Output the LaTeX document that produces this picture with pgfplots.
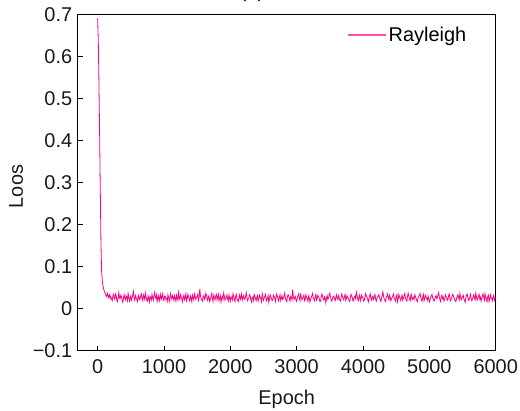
\documentclass[border=0pt]{standalone}
\usepackage{pgfplots}
\usepackage{pgfplotstable}
\pgfplotsset{compat=1.18}
\usepackage{fontspec}
\setmainfont{Liberation Sans}
\definecolor{raypink}{RGB}{255,0,128}
\definecolor{legpink}{RGB}{255,80,165}
\pgfplotstableread[row sep=\\]{
x y\\
0 0.690\\ 10 0.640\\ 20 0.540\\ 30 0.420\\ 40 0.290\\ 50 0.160\\ 60 0.090\\ 70 0.068\\ 80 0.055\\ 90 0.047\\
100 0.042\\ 110 0.038\\ 120 0.035\\ 130 0.029\\ 140 0.031\\ 150 0.036\\ 160 0.026\\ 170 0.030\\ 180 0.033\\ 190 0.024\\
200 0.028\\ 210 0.023\\ 220 0.019\\ 230 0.030\\ 240 0.034\\ 250 0.026\\ 260 0.022\\ 270 0.035\\ 280 0.031\\ 290 0.021\\
300 0.017\\ 310 0.027\\ 320 0.038\\ 330 0.025\\ 340 0.024\\ 350 0.032\\ 360 0.029\\ 370 0.020\\ 380 0.015\\ 390 0.026\\
400 0.033\\ 410 0.024\\ 420 0.021\\ 430 0.031\\ 440 0.027\\ 450 0.019\\ 460 0.036\\ 470 0.028\\ 480 0.018\\ 490 0.024\\
500 0.030\\ 510 0.020\\ 520 0.025\\ 530 0.033\\ 540 0.041\\ 550 0.027\\ 560 0.020\\ 570 0.031\\ 580 0.026\\ 590 0.022\\
600 0.017\\ 610 0.029\\ 620 0.032\\ 630 0.021\\ 640 0.023\\ 650 0.030\\ 660 0.035\\ 670 0.024\\ 680 0.019\\ 690 0.033\\
700 0.028\\ 710 0.022\\ 720 0.037\\ 730 0.027\\ 740 0.021\\ 750 0.018\\ 760 0.030\\ 770 0.025\\ 780 0.016\\ 790 0.029\\
800 0.027\\ 810 0.021\\ 820 0.034\\ 830 0.026\\ 840 0.020\\ 850 0.031\\ 860 0.039\\ 870 0.028\\ 880 0.024\\ 890 0.033\\
900 0.018\\ 910 0.025\\ 920 0.031\\ 930 0.019\\ 940 0.026\\ 950 0.034\\ 960 0.022\\ 970 0.028\\ 980 0.035\\ 990 0.023\\
1000 0.019\\ 1010 0.030\\ 1020 0.029\\ 1030 0.022\\ 1040 0.024\\ 1050 0.018\\ 1060 0.033\\ 1070 0.027\\ 1080 0.017\\ 1090 0.025\\
1100 0.036\\ 1110 0.028\\ 1120 0.022\\ 1130 0.031\\ 1140 0.027\\ 1150 0.020\\ 1160 0.031\\ 1170 0.024\\ 1180 0.018\\ 1190 0.032\\
1200 0.025\\ 1210 0.020\\ 1220 0.038\\ 1230 0.026\\ 1240 0.021\\ 1250 0.033\\ 1260 0.028\\ 1270 0.023\\ 1280 0.016\\ 1290 0.027\\
1300 0.032\\ 1310 0.021\\ 1320 0.026\\ 1330 0.035\\ 1340 0.019\\ 1350 0.024\\ 1360 0.034\\ 1370 0.029\\ 1380 0.023\\ 1390 0.018\\
1400 0.030\\ 1410 0.025\\ 1420 0.017\\ 1430 0.032\\ 1440 0.027\\ 1450 0.021\\ 1460 0.035\\ 1470 0.030\\ 1480 0.022\\ 1490 0.026\\
1500 0.029\\ 1510 0.034\\ 1520 0.020\\ 1530 0.027\\ 1540 0.047\\ 1550 0.031\\ 1560 0.024\\ 1570 0.021\\ 1580 0.018\\ 1590 0.028\\
1600 0.031\\ 1610 0.022\\ 1620 0.025\\ 1630 0.036\\ 1640 0.033\\ 1650 0.023\\ 1660 0.019\\ 1670 0.030\\ 1680 0.028\\ 1690 0.017\\
1700 0.022\\ 1710 0.029\\ 1720 0.036\\ 1730 0.025\\ 1740 0.017\\ 1750 0.032\\ 1760 0.026\\ 1770 0.021\\ 1780 0.030\\ 1790 0.034\\
1800 0.021\\ 1810 0.027\\ 1820 0.034\\ 1830 0.019\\ 1840 0.024\\ 1850 0.031\\ 1860 0.016\\ 1870 0.025\\ 1880 0.029\\ 1890 0.022\\
1900 0.037\\ 1910 0.030\\ 1920 0.020\\ 1930 0.024\\ 1940 0.027\\ 1950 0.033\\ 1960 0.023\\ 1970 0.018\\ 1980 0.032\\ 1990 0.026\\
2000 0.018\\ 2010 0.028\\ 2020 0.026\\ 2030 0.021\\ 2040 0.035\\ 2050 0.030\\ 2060 0.021\\ 2070 0.017\\ 2080 0.029\\ 2090 0.034\\
2100 0.024\\ 2110 0.020\\ 2120 0.017\\ 2130 0.027\\ 2140 0.033\\ 2150 0.022\\ 2160 0.027\\ 2170 0.035\\ 2180 0.020\\ 2190 0.026\\
2200 0.031\\ 2210 0.024\\ 2220 0.022\\ 2230 0.029\\ 2240 0.038\\ 2250 0.027\\ 2260 0.019\\ 2270 0.023\\ 2280 0.025\\ 2290 0.033\\
2300 0.030\\ 2310 0.021\\ 2320 0.016\\ 2330 0.026\\ 2340 0.028\\ 2350 0.020\\ 2360 0.034\\ 2370 0.030\\ 2380 0.023\\ 2390 0.019\\
2400 0.027\\ 2410 0.031\\ 2420 0.018\\ 2430 0.024\\ 2440 0.032\\ 2450 0.028\\ 2460 0.024\\ 2470 0.017\\ 2480 0.036\\ 2490 0.029\\
2500 0.020\\ 2510 0.025\\ 2520 0.029\\ 2530 0.034\\ 2540 0.022\\ 2550 0.018\\ 2560 0.026\\ 2570 0.031\\ 2580 0.015\\ 2590 0.023\\
2600 0.033\\ 2610 0.028\\ 2620 0.025\\ 2630 0.019\\ 2640 0.021\\ 2650 0.032\\ 2660 0.030\\ 2670 0.024\\ 2680 0.017\\ 2690 0.027\\
2700 0.035\\ 2710 0.029\\ 2720 0.023\\ 2730 0.018\\ 2740 0.028\\ 2750 0.033\\ 2760 0.019\\ 2770 0.025\\ 2780 0.031\\ 2790 0.022\\
2800 0.024\\ 2810 0.030\\ 2820 0.037\\ 2830 0.026\\ 2840 0.020\\ 2850 0.017\\ 2860 0.027\\ 2870 0.033\\ 2880 0.032\\ 2890 0.023\\
2900 0.018\\ 2910 0.029\\ 2920 0.026\\ 2930 0.021\\ 2940 0.045\\ 2950 0.030\\ 2960 0.022\\ 2970 0.026\\ 2980 0.029\\ 2990 0.020\\
3000 0.017\\ 3010 0.025\\ 3020 0.031\\ 3030 0.035\\ 3040 0.025\\ 3050 0.019\\ 3060 0.034\\ 3070 0.028\\ 3080 0.021\\ 3090 0.024\\
3100 0.028\\ 3110 0.033\\ 3120 0.019\\ 3130 0.023\\ 3140 0.033\\ 3150 0.027\\ 3160 0.024\\ 3170 0.018\\ 3180 0.030\\ 3190 0.026\\
3200 0.016\\ 3210 0.022\\ 3220 0.027\\ 3230 0.031\\ 3240 0.036\\ 3250 0.025\\ 3260 0.022\\ 3270 0.019\\ 3280 0.029\\ 3290 0.034\\
3300 0.020\\ 3310 0.024\\ 3320 0.032\\ 3330 0.028\\ 3340 0.025\\ 3350 0.017\\ 3360 0.018\\ 3370 0.027\\ 3380 0.035\\ 3390 0.030\\
3400 0.023\\ 3410 0.020\\ 3420 0.028\\ 3430 0.024\\ 3440 0.014\\ 3450 0.026\\ 3460 0.031\\ 3470 0.022\\ 3480 0.026\\ 3490 0.033\\
3500 0.037\\ 3510 0.028\\ 3520 0.021\\ 3530 0.018\\ 3540 0.024\\ 3550 0.029\\ 3560 0.030\\ 3570 0.023\\ 3580 0.019\\ 3590 0.027\\
3600 0.033\\ 3610 0.025\\ 3620 0.022\\ 3630 0.031\\ 3640 0.027\\ 3650 0.020\\ 3660 0.018\\ 3670 0.026\\ 3680 0.035\\ 3690 0.029\\
3700 0.025\\ 3710 0.021\\ 3720 0.029\\ 3730 0.034\\ 3740 0.020\\ 3750 0.024\\ 3760 0.031\\ 3770 0.027\\ 3780 0.024\\ 3790 0.019\\
3800 0.017\\ 3810 0.026\\ 3820 0.034\\ 3830 0.030\\ 3840 0.026\\ 3850 0.018\\ 3860 0.021\\ 3870 0.028\\ 3880 0.030\\ 3890 0.024\\
3900 0.039\\ 3910 0.031\\ 3920 0.023\\ 3930 0.019\\ 3940 0.028\\ 3950 0.033\\ 3960 0.019\\ 3970 0.025\\ 3980 0.032\\ 3990 0.027\\
4000 0.025\\ 4010 0.018\\ 4020 0.020\\ 4030 0.029\\ 4040 0.036\\ 4050 0.030\\ 4060 0.027\\ 4070 0.022\\ 4080 0.016\\ 4090 0.024\\
4100 0.031\\ 4110 0.035\\ 4120 0.024\\ 4130 0.020\\ 4140 0.029\\ 4150 0.026\\ 4160 0.022\\ 4170 0.030\\ 4180 0.034\\ 4190 0.023\\
4200 0.018\\ 4210 0.024\\ 4220 0.028\\ 4230 0.031\\ 4240 0.033\\ 4250 0.026\\ 4260 0.021\\ 4270 0.017\\ 4280 0.026\\ 4290 0.032\\
4300 0.040\\ 4310 0.029\\ 4320 0.023\\ 4330 0.020\\ 4340 0.017\\ 4350 0.027\\ 4360 0.030\\ 4370 0.035\\ 4380 0.025\\ 4390 0.021\\
4400 0.032\\ 4410 0.027\\ 4420 0.019\\ 4430 0.023\\ 4440 0.027\\ 4450 0.031\\ 4460 0.035\\ 4470 0.026\\ 4480 0.022\\ 4490 0.018\\
4500 0.029\\ 4510 0.033\\ 4520 0.016\\ 4530 0.022\\ 4540 0.034\\ 4550 0.028\\ 4560 0.024\\ 4570 0.019\\ 4580 0.028\\ 4590 0.032\\
4600 0.020\\ 4610 0.025\\ 4620 0.031\\ 4630 0.036\\ 4640 0.026\\ 4650 0.021\\ 4660 0.018\\ 4670 0.028\\ 4680 0.037\\ 4690 0.030\\
4700 0.023\\ 4710 0.019\\ 4720 0.030\\ 4730 0.034\\ 4740 0.021\\ 4750 0.025\\ 4760 0.027\\ 4770 0.022\\ 4780 0.033\\ 4790 0.029\\
4800 0.024\\ 4810 0.020\\ 4820 0.017\\ 4830 0.026\\ 4840 0.029\\ 4850 0.032\\ 4860 0.036\\ 4870 0.027\\ 4880 0.022\\ 4890 0.018\\
4900 0.028\\ 4910 0.034\\ 4920 0.019\\ 4930 0.024\\ 4940 0.032\\ 4950 0.028\\ 4960 0.025\\ 4970 0.020\\ 4980 0.030\\ 4990 0.023\\
5000 0.016\\ 5010 0.021\\ 5020 0.027\\ 5030 0.031\\ 5040 0.034\\ 5050 0.026\\ 5060 0.023\\ 5070 0.018\\ 5080 0.020\\ 5090 0.029\\
5100 0.031\\ 5110 0.024\\ 5120 0.026\\ 5130 0.033\\ 5140 0.038\\ 5150 0.028\\ 5160 0.021\\ 5170 0.017\\ 5180 0.029\\ 5190 0.032\\
5200 0.024\\ 5210 0.027\\ 5220 0.018\\ 5230 0.022\\ 5240 0.033\\ 5250 0.029\\ 5260 0.027\\ 5270 0.020\\ 5280 0.022\\ 5290 0.031\\
5300 0.035\\ 5310 0.024\\ 5320 0.019\\ 5330 0.023\\ 5340 0.028\\ 5350 0.034\\ 5360 0.031\\ 5370 0.026\\ 5380 0.023\\ 5390 0.018\\
5400 0.017\\ 5410 0.025\\ 5420 0.030\\ 5430 0.033\\ 5440 0.026\\ 5450 0.021\\ 5460 0.036\\ 5470 0.029\\ 5480 0.021\\ 5490 0.024\\
5500 0.029\\ 5510 0.032\\ 5520 0.024\\ 5530 0.019\\ 5540 0.015\\ 5550 0.026\\ 5560 0.032\\ 5570 0.035\\ 5580 0.027\\ 5590 0.020\\
5600 0.022\\ 5610 0.028\\ 5620 0.034\\ 5630 0.024\\ 5640 0.019\\ 5650 0.023\\ 5660 0.028\\ 5670 0.033\\ 5680 0.025\\ 5690 0.021\\
5700 0.037\\ 5710 0.029\\ 5720 0.020\\ 5730 0.025\\ 5740 0.030\\ 5750 0.034\\ 5760 0.023\\ 5770 0.027\\ 5780 0.018\\ 5790 0.024\\
5800 0.031\\ 5810 0.035\\ 5820 0.026\\ 5830 0.020\\ 5840 0.035\\ 5850 0.028\\ 5860 0.021\\ 5870 0.017\\ 5880 0.029\\ 5890 0.032\\
5900 0.017\\ 5910 0.023\\ 5920 0.033\\ 5930 0.027\\ 5940 0.024\\ 5950 0.019\\ 5960 0.028\\ 5970 0.032\\ 5980 0.020\\ 5990 0.025\\
6000 0.027\\
}\loss
\begin{document}
\begin{tikzpicture}
\begin{axis}[
  name=ax,
  scale only axis,
  width=418bp, height=336.4bp,
  xmin=-300, xmax=6000,
  ymin=-0.1, ymax=0.7,
  xtick={0,1000,2000,3000,4000,5000,6000},
  ytick={-0.1,0,0.1,0.2,0.3,0.4,0.5,0.6,0.7},
  yticklabels={−0.1,0,0.1,0.2,0.3,0.4,0.5,0.6,0.7},
  /pgf/number format/set thousands separator={},
  /pgf/number format/assume math mode=true,
  tick pos=left,
  tick align=inside,
  major tick length=5bp,
  axis line style={line width=1bp, black},
  every tick/.style={line width=0.8bp, black},
  tick label style={font=\fontsize{20}{24}\selectfont, text=black!90},
  xticklabel style={yshift=-5bp},
  yticklabel style={xshift=-2bp},
  label style={font=\fontsize{20}{24}\selectfont, text=black!90},
  xlabel={Epoch},
  xlabel style={at={(axis description cs:0.5,0)}, anchor=base, yshift=-54bp},
  ylabel={Loos},
  ylabel style={at={(axis description cs:-0.131,0.488)}, anchor=base},
  legend style={draw=none, fill=none, font=\fontsize{20}{24}\selectfont,
    at={(axis description cs:0.644,0.938)}, anchor=west, inner sep=0pt},
  legend cell align=left,
]
\addplot[raypink, line width=0.8bp, no marks, forget plot] table[x=x, y=y] {\loss};
\addlegendimage{legend image code/.code={\draw[legpink, line width=1.6bp] (0bp,0bp) -- (38bp,0bp);}}
\addlegendentry{Rayleigh}
\end{axis}
\node[anchor=base, font=\fontsize{20}{24}\selectfont] at ([shift={(174.3bp,16.8bp)}]ax.north west) {(a)};
\pgfresetboundingbox
\path[use as bounding box] ([shift={(-77.7bp,-59.3bp)}]ax.south west) rectangle ([shift={(24.3bp,14.3bp)}]ax.north east);
\end{tikzpicture}
\end{document}
